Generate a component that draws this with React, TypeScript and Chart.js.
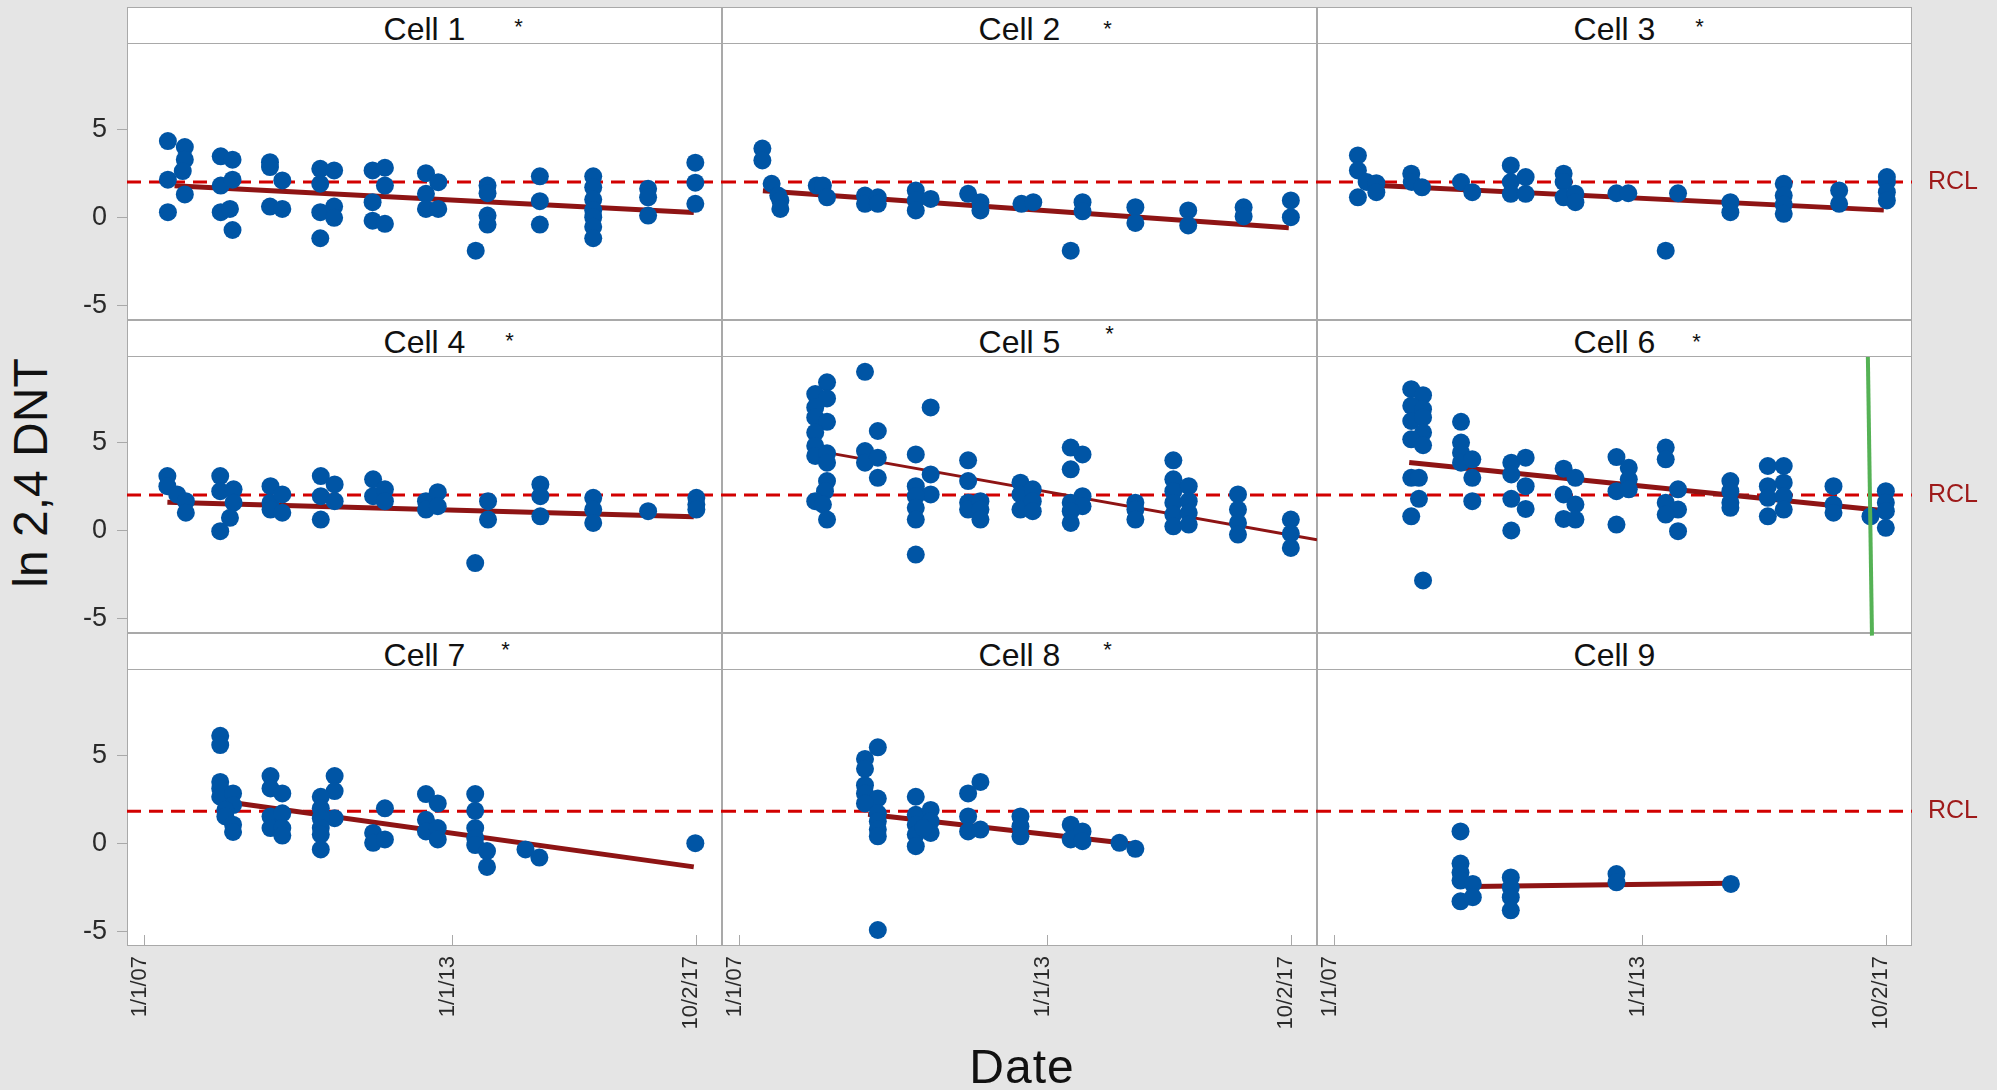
import React, { useEffect, useRef } from 'react';
import { Chart, registerables } from 'chart.js';

Chart.register(...registerables);

const FONT = '"Liberation Sans", Arial, Helvetica, sans-serif';
Chart.defaults.font.family = FONT;

// ---------------- data ----------------
const cellNames = ['Cell 1', 'Cell 2', 'Cell 3', 'Cell 4', 'Cell 5', 'Cell 6', 'Cell 7', 'Cell 8', 'Cell 9'];
const cellStarred = [true, true, true, true, true, true, true, true, false];

// dates as decimal years
const xTickValues = [2007.0, 2013.0, 2017.75];
const xTickLabels = ['1/1/07', '1/1/13', '10/2/17'];
const yTickValues = [-5, 0, 5];
const yTickLabels = ['-5', '0', '5'];

const rclLevels = [2.0, 2.0, 2.0, 2.0, 2.0, 2.0, 1.82, 1.82, 1.82];

const cell1 = [
  [2007.45, 4.33], [2007.45, 2.13], [2007.45, 0.28], [2007.78, 3.99], [2007.78, 3.27], [2007.78, 1.29], [2007.74, 2.62],
  [2008.48, 3.46], [2008.48, 1.8], [2008.48, 0.28], [2008.71, 3.27], [2008.71, 2.13], [2008.71, -0.73], [2008.66, 0.47],
  [2009.44, 3.13], [2009.44, 2.85], [2009.44, 0.6], [2009.68, 2.09], [2009.68, 0.47],
  [2010.42, 2.75], [2010.42, 1.9], [2010.42, 0.28], [2010.42, -1.2], [2010.69, 2.66], [2010.69, 0.6], [2010.69, -0.04],
  [2011.44, 2.66], [2011.44, 0.85], [2011.44, -0.2], [2011.68, 2.81], [2011.68, 1.8], [2011.68, -0.38],
  [2012.48, 2.5], [2012.48, 1.33], [2012.48, 0.47], [2012.72, 1.99], [2012.72, 0.47],
  [2013.45, -1.91], [2013.68, 1.8], [2013.68, 1.36], [2013.68, 0.09], [2013.68, -0.42],
  [2014.7, 2.32], [2014.7, 0.91], [2014.7, -0.42],
  [2015.74, 2.32], [2015.74, 1.7], [2015.74, 1.0], [2015.74, 0.4], [2015.74, 0.0], [2015.74, -0.55], [2015.74, -1.2],
  [2016.81, 1.61], [2016.81, 1.13], [2016.81, 0.09],
  [2017.73, 3.1], [2017.73, 1.96], [2017.73, 0.76],
];
const cell2 = [
  [2007.44, 3.9], [2007.44, 3.23], [2007.62, 1.9], [2007.75, 1.23], [2007.79, 0.95], [2007.79, 0.47],
  [2008.5, 1.8], [2008.62, 1.8], [2008.7, 1.13],
  [2009.44, 1.23], [2009.44, 0.76], [2009.69, 1.13], [2009.69, 0.76],
  [2010.43, 1.52], [2010.43, 0.95], [2010.43, 0.38], [2010.72, 1.04],
  [2011.45, 1.33], [2011.69, 0.85], [2011.69, 0.38],
  [2012.49, 0.76], [2012.72, 0.85],
  [2013.45, -1.91], [2013.68, 0.85], [2013.68, 0.33],
  [2014.71, 0.57], [2014.71, -0.33],
  [2015.74, 0.38], [2015.74, -0.47],
  [2016.82, 0.56], [2016.82, 0.04],
  [2017.74, 0.95], [2017.74, 0.0],
];
const cell3 = [
  [2007.45, 3.51], [2007.45, 2.66], [2007.45, 1.13], [2007.62, 2.0], [2007.81, 1.93], [2007.81, 1.42],
  [2008.49, 2.47], [2008.5, 2.0], [2008.7, 1.7],
  [2009.46, 2.0], [2009.68, 1.42],
  [2010.43, 2.94], [2010.43, 2.0], [2010.43, 1.33], [2010.72, 2.28], [2010.72, 1.33],
  [2011.46, 2.47], [2011.46, 2.0], [2011.46, 1.13], [2011.69, 1.33], [2011.69, 0.85],
  [2012.49, 1.36], [2012.72, 1.36],
  [2013.45, -1.91], [2013.69, 1.36],
  [2014.71, 0.85], [2014.71, 0.28],
  [2015.75, 1.9], [2015.75, 1.23], [2015.75, 0.72], [2015.75, 0.19],
  [2016.83, 1.52], [2016.83, 0.76],
  [2017.76, 2.28], [2017.76, 2.0], [2017.76, 1.42], [2017.76, 0.95],
];
const cell4 = [
  [2007.44, 3.08], [2007.44, 2.5], [2007.63, 2.03], [2007.8, 1.65], [2007.8, 0.99],
  [2008.47, 3.08], [2008.47, 2.22], [2008.47, -0.06], [2008.73, 2.32], [2008.73, 1.56], [2008.66, 0.7],
  [2009.45, 2.5], [2009.45, 1.56], [2009.45, 1.17], [2009.68, 2.03], [2009.68, 0.99],
  [2010.43, 3.08], [2010.43, 1.93], [2010.43, 0.6], [2010.7, 2.6], [2010.7, 1.65],
  [2011.45, 2.89], [2011.45, 1.93], [2011.68, 2.32], [2011.68, 1.65],
  [2012.48, 1.65], [2012.48, 1.17], [2012.71, 2.16], [2012.71, 1.36],
  [2013.44, -1.87], [2013.69, 1.65], [2013.69, 0.6],
  [2014.71, 2.6], [2014.71, 1.93], [2014.71, 0.79],
  [2015.74, 1.84], [2015.74, 1.17], [2015.74, 0.41],
  [2016.81, 1.08],
  [2017.75, 1.84], [2017.75, 1.46], [2017.75, 1.17],
];
const cell5 = [
  [2008.7, 8.41], [2008.47, 7.74], [2008.7, 7.49], [2008.47, 6.98], [2008.47, 6.41], [2008.7, 6.16], [2008.47, 5.55],
  [2008.47, 4.79], [2008.47, 4.22], [2008.7, 4.37], [2008.7, 3.84], [2008.7, 2.79], [2008.66, 2.22], [2008.47, 1.65],
  [2008.62, 1.46], [2008.7, 0.6],
  [2009.44, 9.01], [2009.69, 5.64], [2009.44, 4.5], [2009.44, 3.84], [2009.69, 4.12], [2009.69, 2.98],
  [2010.72, 6.98], [2010.43, 4.31], [2010.72, 3.17], [2010.43, 2.5], [2010.72, 2.03], [2010.43, 1.93], [2010.43, 1.27],
  [2010.43, 0.6], [2010.43, -1.39],
  [2011.45, 3.97], [2011.45, 2.79], [2011.45, 1.56], [2011.45, 1.17], [2011.69, 1.65], [2011.69, 1.17], [2011.69, 0.6],
  [2012.47, 2.7], [2012.47, 2.03], [2012.47, 1.17], [2012.71, 2.32], [2012.71, 1.65], [2012.71, 1.08],
  [2013.45, 4.7], [2013.68, 4.31], [2013.45, 3.46], [2013.68, 1.93], [2013.45, 1.56], [2013.68, 1.36], [2013.45, 1.08],
  [2013.45, 0.41],
  [2014.71, 1.56], [2014.71, 1.17], [2014.71, 0.6],
  [2015.45, 3.97], [2015.45, 2.89], [2015.45, 2.22], [2015.45, 1.56], [2015.45, 0.89], [2015.45, 0.22],
  [2015.75, 2.5], [2015.75, 1.65], [2015.75, 0.99], [2015.75, 0.32],
  [2016.71, 2.03], [2016.71, 1.17], [2016.71, 0.41], [2016.71, -0.25],
  [2017.74, 0.6], [2017.74, -0.2], [2017.74, -1.01],
];
const cell6 = [
  [2008.49, 8.02], [2008.72, 7.68], [2008.49, 7.07], [2008.72, 6.88], [2008.49, 6.21], [2008.72, 6.41], [2008.72, 5.55],
  [2008.49, 5.17], [2008.72, 4.83], [2008.49, 2.98], [2008.64, 2.98], [2008.49, 0.79], [2008.64, 1.78], [2008.72, -2.86],
  [2009.46, 6.16], [2009.46, 4.98], [2009.46, 4.41], [2009.46, 3.84], [2009.68, 4.03], [2009.68, 2.98], [2009.68, 1.65],
  [2010.44, 3.84], [2010.44, 3.17], [2010.72, 4.12], [2010.72, 2.5], [2010.44, 1.78], [2010.72, 1.21], [2010.44, -0.02],
  [2011.46, 3.5], [2011.69, 2.98], [2011.46, 2.03], [2011.69, 1.46], [2011.46, 0.64], [2011.69, 0.6],
  [2012.49, 4.16], [2012.73, 3.55], [2012.73, 2.89], [2012.49, 2.22], [2012.73, 2.32], [2012.49, 0.32],
  [2013.45, 4.7], [2013.45, 4.03], [2013.69, 2.32], [2013.45, 1.56], [2013.69, 1.17], [2013.45, 0.89], [2013.69, -0.06],
  [2014.71, 2.79], [2014.71, 2.22], [2014.71, 1.56], [2014.71, 1.27],
  [2015.44, 3.65], [2015.75, 3.65], [2015.44, 2.5], [2015.44, 1.84], [2015.44, 0.79], [2015.75, 2.7], [2015.75, 1.93],
  [2015.75, 1.17],
  [2016.72, 2.5], [2016.72, 1.46], [2016.72, 0.99],
  [2017.44, 0.79],
  [2017.74, 2.22], [2017.74, 1.56], [2017.74, 1.08], [2017.74, 0.13],
];
const cell7 = [
  [2008.47, 6.11], [2008.47, 5.58], [2008.47, 3.48], [2008.47, 3.11], [2008.47, 2.64], [2008.72, 2.83], [2008.72, 2.17],
  [2008.57, 1.9], [2008.57, 1.52], [2008.72, 1.05], [2008.72, 0.64],
  [2009.45, 3.82], [2009.45, 3.11], [2009.68, 2.83], [2009.45, 1.52], [2009.68, 1.7], [2009.45, 0.86], [2009.68, 0.86],
  [2009.68, 0.43],
  [2010.7, 3.82], [2010.7, 2.96], [2010.43, 2.64], [2010.43, 1.98], [2010.7, 1.42], [2010.43, 1.42], [2010.43, 0.86],
  [2010.43, 0.49], [2010.43, -0.36],
  [2011.68, 1.98], [2011.45, 0.58], [2011.45, 0.02], [2011.68, 0.21],
  [2012.48, 2.79], [2012.71, 2.26], [2012.48, 1.33], [2012.48, 0.67], [2012.71, 0.86], [2012.71, 0.21],
  [2013.44, 2.79], [2013.44, 1.84], [2013.44, 0.86], [2013.44, 0.3], [2013.44, -0.11], [2013.67, -0.45], [2013.67, -1.35],
  [2014.42, -0.36], [2014.69, -0.82],
  [2017.73, 0.0],
];
const cell8 = [
  [2009.69, 5.45], [2009.44, 4.79], [2009.44, 4.23], [2009.44, 3.3], [2009.44, 2.83], [2009.69, 2.54], [2009.44, 2.26],
  [2009.69, 1.7], [2009.69, 1.24], [2009.69, 0.77], [2009.69, 0.39], [2009.69, -4.94],
  [2010.43, 2.64], [2010.43, 1.61], [2010.43, 1.05], [2010.43, 0.49], [2010.43, -0.17], [2010.72, 1.89], [2010.72, 1.24],
  [2010.72, 0.58], [2010.58, 0.86],
  [2011.69, 3.48], [2011.45, 2.83], [2011.45, 1.52], [2011.45, 0.67], [2011.69, 0.77],
  [2012.47, 1.52], [2012.47, 0.96], [2012.47, 0.39],
  [2013.45, 1.05], [2013.45, 0.21], [2013.68, 0.67], [2013.68, 0.11],
  [2014.4, 0.02], [2014.71, -0.32],
];
const cell9 = [
  [2009.45, 0.67], [2009.45, -1.16], [2009.45, -1.67], [2009.45, -2.13], [2009.45, -3.31], [2009.69, -2.32], [2009.69, -3.07],
  [2010.43, -1.95], [2010.43, -2.51], [2010.43, -3.07], [2010.43, -3.82],
  [2012.49, -1.76], [2012.49, -2.23],
  [2014.72, -2.32],
];
const cellPoints = [cell1, cell2, cell3, cell4, cell5, cell6, cell7, cell8, cell9];

// fitted trend line end points per cell: [date, value]
const trendStart = [
  [2007.58, 1.78], [2007.45, 1.5], [2007.55, 1.85], [2007.44, 1.59], [2008.7, 4.41],
  [2008.45, 3.85], [2008.84, 2.26], [2009.5, 1.65], [2009.7, -2.47],
];
const trendEnd = [
  [2017.7, 0.27], [2017.7, -0.6], [2017.7, 0.4], [2017.7, 0.76], [2018.25, -0.55],
  [2017.72, 1.1], [2017.7, -1.35], [2014.65, -0.05], [2014.7, -2.28],
];

// vertical marker in Cell 6
const cell6MarkerX = [2017.39, 2017.47];
const cell6MarkerY = [9.85, -6.0];

// ---------------- layout & style ----------------
const X_MIN = 2006.653;
const X_MAX = 2018.25;
const Y_MIN = -5.85;
const Y_MAX = 9.85;

const COL_LEFT = [127, 722, 1317];
const COL_W = 595;
const HEADER_TOP = [7, 320, 633];
const HEADER_H = 37;
const PLOT_H = 276;
const Y_AXIS_W = 70;
const X_AXIS_H = 100;
const RIGHT_W = 85;

const BG = '#e5e5e5';
const FRAME = '#a9a9a9';
const POINT_COLOR = '#0055a5';
const TREND_COLOR = '#8e1414';
const RCL_COLOR = '#d20000';
const RCL_TEXT = '#9e1a1a';
const MARKER_COLOR = '#55b255';
const TREND_W = [5, 5, 5, 5, 3, 5, 5, 5, 5];
const STAR_DX = [93, 87, 84, 84, 89, 81, 80, 87, 0];
const STAR_DY = [8, 10, 8, 9, 2, 10, 5, 5, 0];

const rclLabelPlugin = {
  id: 'rclLabel',
  afterDraw(chart: any, _args: any, opts: any) {
    if (!opts || !opts.show) return;
    const { ctx, chartArea, scales } = chart;
    const y = scales.y.getPixelForValue(opts.value);
    ctx.save();
    ctx.font = `25px ${FONT}`;
    ctx.fillStyle = RCL_TEXT;
    ctx.textBaseline = 'middle';
    ctx.textAlign = 'left';
    ctx.fillText('RCL', chartArea.right + 16, y);
    ctx.restore();
  },
};

function zeroPadding(s: any) {
  s.paddingLeft = 0;
  s.paddingRight = 0;
  s.paddingTop = 0;
  s.paddingBottom = 0;
}

function Panel({ index }: { index: number }) {
  const ref = useRef<HTMLCanvasElement | null>(null);
  const r = Math.floor(index / 3);
  const c = index % 3;
  const showX = r === 2;
  const showY = c === 0;
  const leftExtra = showY ? Y_AXIS_W : 0;
  const rightExtra = c === 2 ? RIGHT_W : 0;
  const bottomExtra = showX ? X_AXIS_H : 6;
  const w = COL_W + leftExtra + rightExtra;
  const h = PLOT_H + bottomExtra;
  const left = COL_LEFT[c] - leftExtra;
  const top = HEADER_TOP[r] + HEADER_H;

  useEffect(() => {
    const datasets: any[] = [];
    datasets.push({
      label: 'data',
      data: cellPoints[index].map(([x, y]) => ({ x, y })),
      backgroundColor: POINT_COLOR,
      pointBackgroundColor: POINT_COLOR,
      pointBorderColor: POINT_COLOR,
      pointBorderWidth: 0,
      pointRadius: 9,
      order: 1,
    });
    datasets.push({
      label: 'trend',
      data: [
        { x: trendStart[index][0], y: trendStart[index][1] },
        { x: trendEnd[index][0], y: trendEnd[index][1] },
      ],
      showLine: true,
      borderColor: TREND_COLOR,
      borderWidth: TREND_W[index],
      pointRadius: 0,
      order: 2,
    });
    datasets.push({
      label: 'RCL',
      data: [
        { x: X_MIN, y: rclLevels[index] },
        { x: X_MAX, y: rclLevels[index] },
      ],
      showLine: true,
      borderColor: RCL_COLOR,
      borderWidth: 3,
      borderDash: [14, 8],
      pointRadius: 0,
      order: 3,
    });
    if (index === 5) {
      datasets.push({
        label: 'marker',
        data: cell6MarkerX.map((x, i) => ({ x, y: cell6MarkerY[i] })),
        showLine: true,
        borderColor: MARKER_COLOR,
        borderWidth: 4,
        pointRadius: 0,
        order: 0,
        clip: false,
      });
    }
    const chart = new Chart(ref.current as HTMLCanvasElement, {
      type: 'scatter',
      data: { datasets },
      plugins: [rclLabelPlugin as any],
      options: {
        responsive: false,
        maintainAspectRatio: false,
        animation: false,
        events: [],
        layout: {
          autoPadding: false,
          padding: { left: 0, top: 0, right: rightExtra, bottom: showX ? 0 : bottomExtra },
        },
        plugins: {
          legend: { display: false },
          tooltip: { enabled: false },
          title: { display: false },
          rclLabel: { show: c === 2, value: rclLevels[index] },
        } as any,
        scales: {
          x: {
            type: 'linear',
            min: X_MIN,
            max: X_MAX,
            display: showX,
            afterBuildTicks: (s: any) => {
              s.ticks = xTickValues.map((v) => ({ value: v }));
            },
            afterFit: (s: any) => {
              s.height = showX ? X_AXIS_H : 0;
              zeroPadding(s);
            },
            ticks: {
              autoSkip: false,
              minRotation: 90,
              maxRotation: 90,
              padding: 21,
              labelOffset: -5,
              color: '#2a2a2a',
              font: { family: FONT, size: 22 },
              callback: (_v: any, i: number) => xTickLabels[i],
            },
            grid: {
              display: true,
              drawOnChartArea: false,
              drawTicks: true,
              tickLength: -11,
              color: FRAME,
              lineWidth: 1,
            },
            border: { display: false },
          },
          y: {
            type: 'linear',
            min: Y_MIN,
            max: Y_MAX,
            display: showY,
            afterBuildTicks: (s: any) => {
              s.ticks = yTickValues.map((v) => ({ value: v }));
            },
            afterFit: (s: any) => {
              s.width = showY ? Y_AXIS_W : 0;
              zeroPadding(s);
            },
            ticks: {
              padding: 10,
              color: '#2a2a2a',
              font: { family: FONT, size: 27 },
              callback: (_v: any, i: number) => yTickLabels[i],
            },
            grid: {
              display: true,
              drawOnChartArea: false,
              drawTicks: true,
              tickLength: 10,
              color: FRAME,
              lineWidth: 1,
            },
            border: { display: false },
          },
        },
      } as any,
    });
    return () => chart.destroy();
  }, [index]);

  return (
    <canvas
      ref={ref}
      width={w}
      height={h}
      style={{ position: 'absolute', left, top, width: w, height: h, display: 'block' }}
    />
  );
}

function Frame({ index }: { index: number }) {
  const r = Math.floor(index / 3);
  const c = index % 3;
  const left = COL_LEFT[c];
  const top = HEADER_TOP[r];
  return (
    <>
      <div
        style={{
          position: 'absolute',
          left,
          top,
          width: COL_W,
          height: HEADER_H,
          background: '#fff',
          border: `1px solid ${FRAME}`,
          boxSizing: 'border-box',
        }}
      >
        <div
          style={{
            position: 'absolute',
            left: 0,
            right: 0,
            top: 3,
            lineHeight: '37px',
            textAlign: 'center',
            fontSize: 32,
            color: '#111',
            whiteSpace: 'nowrap',
          }}
        >
          {cellNames[index]}
        </div>
        {cellStarred[index] && (
          <div
            style={{
              position: 'absolute',
              left: COL_W / 2 + STAR_DX[index],
              top: STAR_DY[index],
              transform: 'translateX(-50%)',
              fontSize: 22,
              lineHeight: '22px',
              color: '#111',
            }}
          >
            *
          </div>
        )}
      </div>
      <div
        style={{
          position: 'absolute',
          left,
          top: top + HEADER_H,
          width: COL_W,
          height: PLOT_H,
          background: '#fff',
          border: `1px solid ${FRAME}`,
          borderTop: 'none',
          boxSizing: 'border-box',
        }}
      />
    </>
  );
}

export default function App() {
  const idx = [0, 1, 2, 3, 4, 5, 6, 7, 8];
  return (
    <div
      style={{
        position: 'fixed',
        left: 0,
        top: 0,
        width: 1997,
        height: 1090,
        background: BG,
        overflow: 'hidden',
        fontFamily: FONT,
      }}
    >
      {idx.map((i) => (
        <Frame key={'f' + i} index={i} />
      ))}
      {idx.map((i) => (
        <Panel key={'p' + i} index={i} />
      ))}
      <div
        style={{
          position: 'absolute',
          left: 31,
          top: 473,
          transform: 'translate(-50%, -50%) rotate(-90deg)',
          fontSize: 48,
          lineHeight: '48px',
          whiteSpace: 'nowrap',
          color: '#111',
        }}
      >
        ln 2,4 DNT
      </div>
      <div
        style={{
          position: 'absolute',
          left: 1022,
          top: 1043,
          transform: 'translateX(-50%)',
          fontSize: 48,
          lineHeight: '48px',
          letterSpacing: 1,
          whiteSpace: 'nowrap',
          color: '#111',
        }}
      >
        Date
      </div>
    </div>
  );
}
